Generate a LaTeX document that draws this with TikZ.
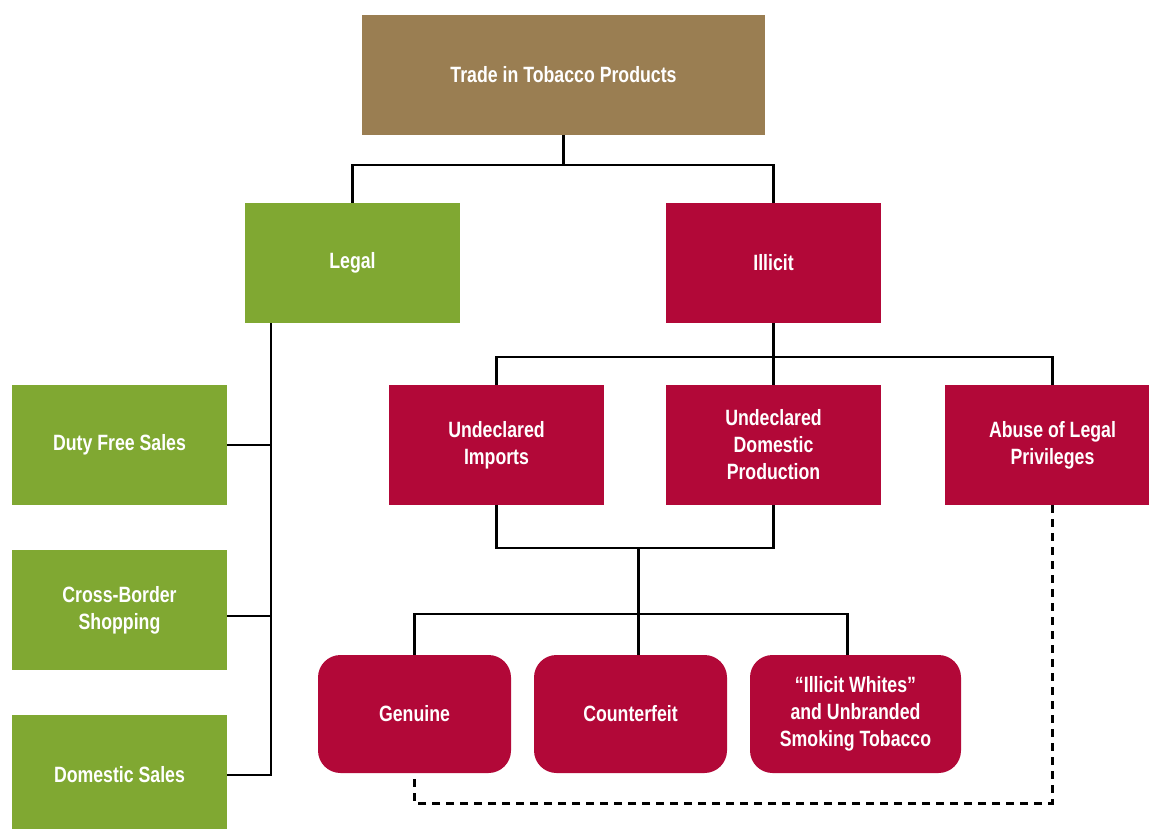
\documentclass[tikz,border=0pt]{standalone}
\usepackage{fontspec}
\setmainfont{Liberation Sans}[FakeStretch=0.8]
\usetikzlibrary{calc}
\definecolor{tradebrown}{HTML}{9A7E52}
\definecolor{legalgreen}{HTML}{80A832}
\definecolor{illicitred}{HTML}{B20838}
\tikzset{
	box/.style={text=white, align=center, font=\fontsize{12.6}{15.4}\selectfont\bfseries,
		minimum width=4.3cm, minimum height=2.4cm, inner sep=0pt},
	legalbox/.style={box, fill=legalgreen},
	illicitbox/.style={box, fill=illicitred},
	kindbox/.style={box, fill=illicitred, rounded corners=0.45cm, minimum width=3.86cm, minimum height=2.36cm},
	link/.style={line width=1.7pt, black},
	dashlink/.style={link, dash pattern=on 0.16cm off 0.12cm}
}
\begin{document}
\begin{tikzpicture}
		%%%%% START %%%%%
		
		\useasboundingbox (0, 0) rectangle (22.98, 16.56);
		\clip (0, 0) rectangle (22.98, 16.56);
		
		\node[box, fill=tradebrown, minimum width=8.06cm] (trade) at (11.27, 15.06) {Trade in Tobacco Products};
		
		\node[legalbox] (legal) at (7.05, 11.30) {Legal};
		\node[illicitbox] (illicit) at (15.47, 11.30) {Illicit};
		
		\node[legalbox] (duty) at (2.39, 7.66) {Duty Free Sales};
		\node[legalbox] (cross) at (2.39, 4.36) {Cross-Border\\Shopping};
		\node[legalbox] (domestic) at (2.39, 1.06) {Domestic Sales};
		
		\node[illicitbox] (imports) at (9.93, 7.66) {Undeclared\\Imports};
		\node[illicitbox] (production) at (15.47, 7.66) {Undeclared\\Domestic\\Production};
		\node[illicitbox] (abuse) at (21.05, 7.66) {Abuse of Legal\\Privileges};
		
		\node[kindbox] (genuine) at (8.29, 2.28) {Genuine};
		\node[kindbox] (counterfeit) at (12.61, 2.28) {Counterfeit};
		\node[kindbox, minimum width=4.22cm] (whites) at (17.11, 2.28) {``Illicit Whites''\\and Unbranded\\Smoking Tobacco};
		
		% legal or illicit
		\coordinate (split) at (11.27, 13.26);
		\draw[link] (trade.south) -- (split);
		\draw[link] (legal.north) |- (split) -| (illicit.north);
		
		% legal trunk
		\coordinate (trunk) at (5.42, 0);
		\draw[link] (legal.south -| trunk) |- (domestic.east);
		\draw[link] (duty.east) -- (duty.east -| trunk);
		\draw[link] ($(cross.east)+(0,-0.12)$) -- ($(cross.east -| trunk)+(0,-0.12)$);
		
		% illicit branches
		\coordinate (ibar) at (15.47, 9.42);
		\draw[link] (illicit.south) -- (ibar);
		\draw[link] (imports.north) |- (ibar) -| (abuse.north);
		\draw[link] (production.north) -- (ibar);
		
		% undeclared -> kinds
		\coordinate (ujoin) at (12.76, 5.60);
		\coordinate (kbar) at (12.76, 4.28);
		\draw[link] (imports.south) |- (ujoin) -| (production.south);
		\draw[link] (ujoin) -- (kbar);
		\draw[link] (genuine.north) |- (kbar) -- (kbar -| 16.94, 0) -- (16.94, 0 |- whites.north);
		\draw[link] (kbar) -- (kbar |- counterfeit.north);
		
		% abuse of privileges also covers genuine
		\coordinate (dbar) at (0, 0.5);
		\draw[dashlink] (abuse.south) -- (abuse.south |- dbar) -| (genuine.south);
		
		%%%%% END %%%%%
	\end{tikzpicture}
\end{document}
